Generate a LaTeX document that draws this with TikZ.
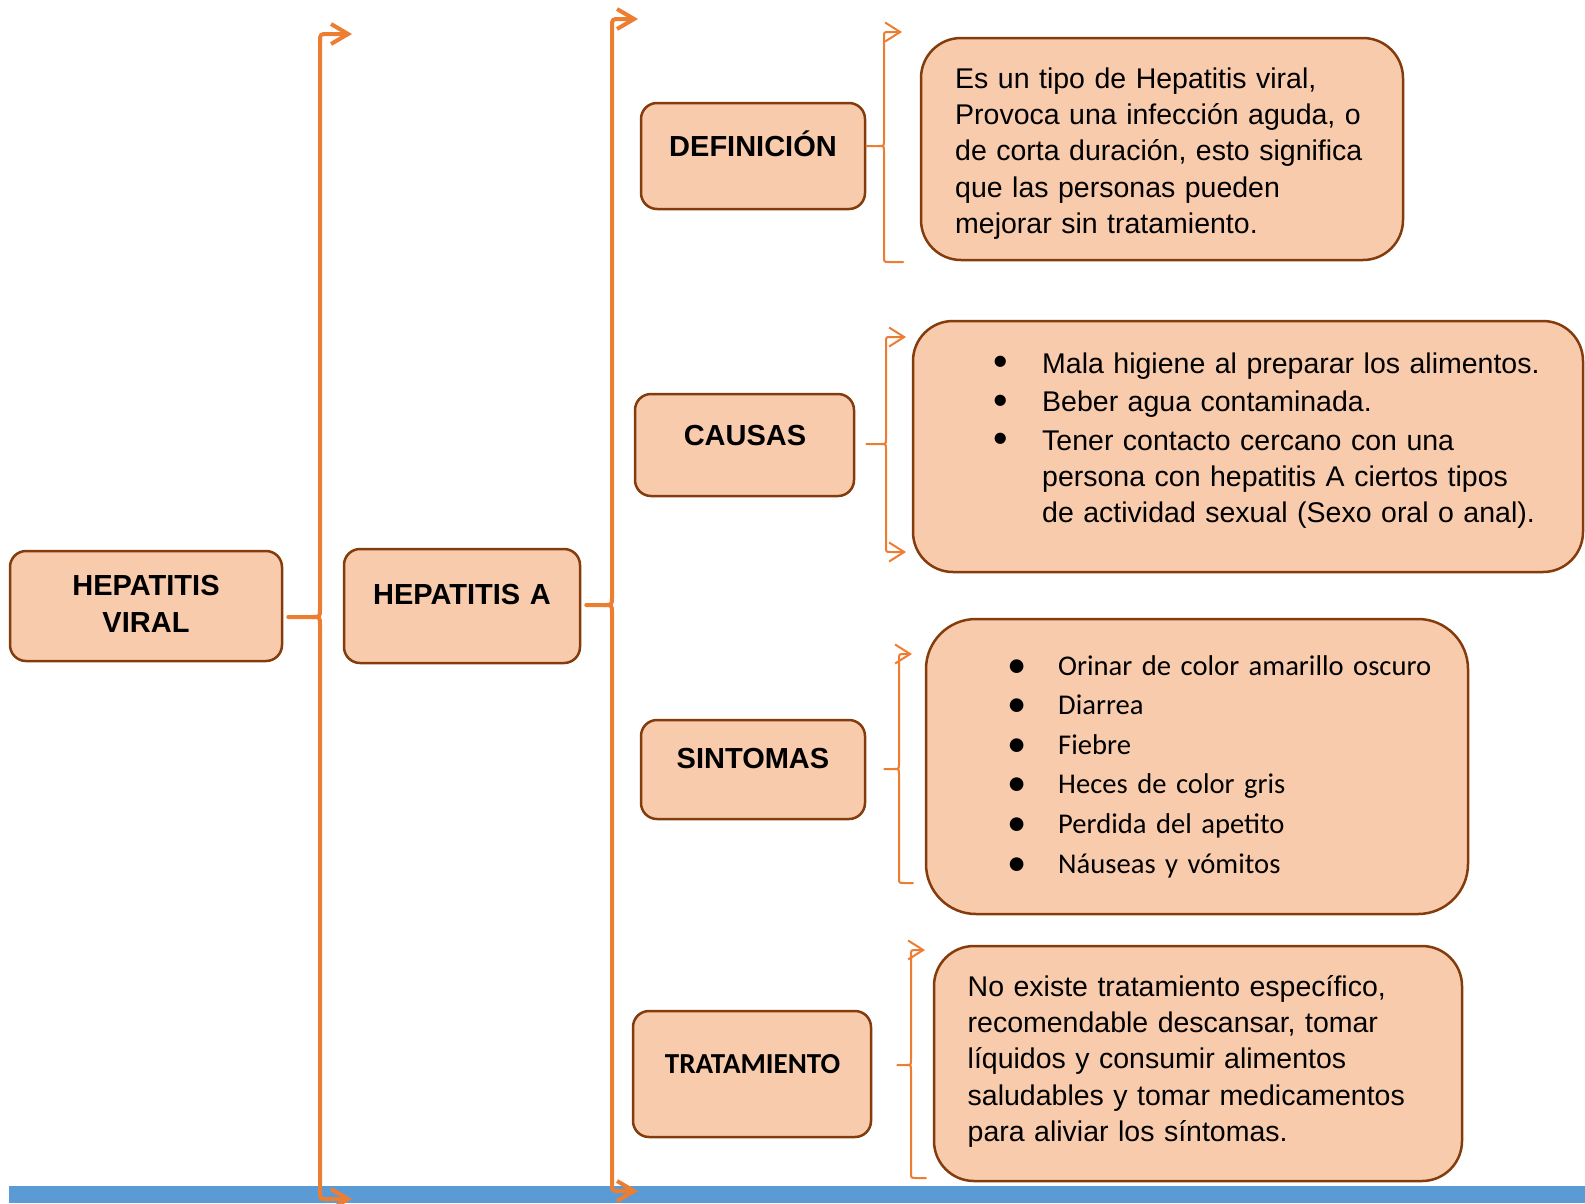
\documentclass[tikz,border=0pt]{standalone}
\usepackage{fontspec}
\usepackage{graphicx}
\setmainfont{Liberation Sans}
\newfontfamily\calib{Carlito}
\usetikzlibrary{arrows.meta,calc}
\definecolor{boxfill}{HTML}{F8CBAD}
\definecolor{boxline}{HTML}{843C0C}
\definecolor{brc}{HTML}{ED7D31}
\definecolor{barblue}{HTML}{5B9BD5}
\newcommand\causbul{\leavevmode\llap{\makebox[0pt]{\raisebox{-2.5pt}{\scalebox{1.45}{\textbullet}}}\hspace*{41pt}}}
\newcommand\sintbul{\leavevmode\llap{\makebox[0pt]{\raisebox{-2pt}{\scalebox{1.35}{\textbullet}}}\hspace*{41pt}}}
\begin{document}
\begin{tikzpicture}[x=1pt,y=-1pt,
  smallbox/.style={draw=boxline,fill=boxfill,line width=2.5pt,rounded corners=16pt,inner sep=0pt},
  bigbox/.style={draw=boxline,fill=boxfill,line width=2.5pt,rounded corners=40pt,inner sep=0pt},
  head/.style={font=\bfseries\fontsize{29}{37}\selectfont,inner sep=0pt,anchor=base,text width=260pt,align=center},
  calhead/.style={font=\calib\bfseries\fontsize{29}{37}\selectfont,inner sep=0pt,anchor=base,text width=260pt,align=center},
  body/.style={font=\fontsize{28.5}{36.4}\selectfont,inner sep=0pt,anchor=base west,text width=560pt,align=left},
  calbody/.style={font=\calib\fontsize{28.6}{39.6}\selectfont,inner sep=0pt,anchor=base west,text width=560pt,align=left},
  thickbr/.style={draw=brc,line width=4pt,line cap=round,line join=round},
  thinbr/.style={draw=brc,line width=2pt,line cap=round,line join=round},
  bigtip/.style={-{Straight Barb[length=17pt,width=20pt]}},
  smalltip/.style={-{Straight Barb[length=15pt,width=19pt]}}
]
\useasboundingbox (0,0) rectangle (1585,1203);
\fill[white] (0,0) rectangle (1585,1203);
% blue bar
\fill[barblue] (9,1186) rectangle (1585,1203);

% left boxes
\node[smallbox,minimum width=272pt,minimum height=110pt] (hv) at (146,606) {};
\node[head] (hvt) at (146,595) {HEPATITIS\\VIRAL};
\node[smallbox,minimum width=236pt,minimum height=114pt] (ha) at (462,606) {};
\node[head] (hat) at (462,604) {HEPATITIS A};

% middle boxes
\node[smallbox,minimum width=224pt,minimum height=106pt] (def) at (753,156) {};
\node[head] (deft) at (753,156) {DEFINICIÓN};
\node[smallbox,minimum width=219pt,minimum height=102pt] (cau) at (744.5,445) {};
\node[head] (caut) at (745,445) {CAUSAS};
\node[smallbox,minimum width=224pt,minimum height=99pt] (sin) at (753,769.5) {};
\node[head] (sint) at (753,768.5) {SINTOMAS};
\node[smallbox,minimum width=238pt,minimum height=126pt] (tra) at (752,1074) {};
\node[calhead] (trat) at (752.5,1073) {TRATAMIENTO};

% right boxes
\node[bigbox,minimum width=482pt,minimum height=222pt] (defb) at (1162,149) {};
\node[body] (defx) at (955,88) {Es un tipo de Hepatitis viral,\\
Provoca una infección aguda, o\\
de corta duración, esto significa\\
que las personas pueden\\
mejorar sin tratamiento.};

\node[bigbox,minimum width=670pt,minimum height=251pt] (caub) at (1248,446.5) {};
\node[body] (caux) at (1042,373) {\causbul Mala higiene al preparar los alimentos.\\[2.1pt]
\causbul Beber agua contaminada.\\[2.1pt]
\causbul Tener contacto cercano con una\\
persona con hepatitis A ciertos tipos\\
de actividad sexual (Sexo oral o anal).};

\node[bigbox,rounded corners=50pt,minimum width=542pt,minimum height=295pt] (sinb) at (1197,766.5) {};
\node[calbody] (sinx) at (1058,675) {\sintbul Orinar de color amarillo oscuro\\
\sintbul Diarrea\\
\sintbul Fiebre\\
\sintbul Heces de color gris\\
\sintbul Perdida del apetito\\
\sintbul Náuseas y vómitos};

\node[bigbox,minimum width=528pt,minimum height=235pt] (trab) at (1198,1063.5) {};
\node[body] (trax) at (967.5,996) {No existe tratamiento específico,\\
recomendable descansar, tomar\\
líquidos y consumir alimentos\\
saludables y tomar medicamentos\\
para aliviar los síntomas.};

% thick brace 1
\coordinate (b1s) at ($(hv.east)+(5,11)$);
\coordinate (b1t) at (352,34);
\coordinate (b1b) at (352,1199);
\draw[thickbr,bigtip] (b1s) -- (312,617) .. controls (320,617) .. (320,609) -- (320,42) .. controls (320,34) .. (328,34) -- (b1t);
\draw[thickbr,bigtip] (312,617) .. controls (320,617) .. (320,625) -- (320,1191) .. controls (320,1199) .. (328,1199) -- (b1b);

% thick brace 2
\coordinate (b2s) at ($(ha.east)+(5,-1)$);
\coordinate (b2t) at (638,19);
\coordinate (b2b) at (638,1191);
\draw[thickbr,bigtip] (b2s) -- (604,605) .. controls (612,605) .. (612,597) -- (612,27) .. controls (612,19) .. (620,19) -- (b2t);
\draw[thickbr,bigtip] (604,605) .. controls (612,605) .. (612,613) -- (612,1183) .. controls (612,1191) .. (620,1191) -- (b2b);

% thin brace DEF
\coordinate (d3s) at ($(def.east)+(0,-10)$);
\coordinate (d3t) at (902,32);
\coordinate (d3b) at (903,262);
\draw[thinbr,smalltip] (d3s) -- (879,146) .. controls (884,146) .. (884,141) -- (884,37) .. controls (884,32) .. (889,32) -- (d3t);
\draw[thinbr] (879,146) .. controls (884,146) .. (884,151) -- (884,257) .. controls (884,262) .. (889,262) -- (d3b);

% thin brace CAUSAS
\coordinate (c3s) at ($(cau.east)+(11,-1)$);
\coordinate (c3t) at (906,337);
\coordinate (c3b) at (906,552);
\draw[thinbr,smalltip] (c3s) -- (881,444) .. controls (886,444) .. (886,439) -- (886,342) .. controls (886,337) .. (891,337) -- (c3t);
\draw[thinbr,smalltip] (881,444) .. controls (886,444) .. (886,449) -- (886,547) .. controls (886,552) .. (891,552) -- (c3b);

% thin brace SINTOMAS
\coordinate (s3s) at ($(sin.east)+(18,-0.5)$);
\coordinate (s3t) at (912,654);
\coordinate (s3b) at (913,883);
\draw[thinbr,smalltip] (s3s) -- (894,769) .. controls (899,769) .. (899,764) -- (899,659) .. controls (899,654) .. (904,654) -- (s3t);
\draw[thinbr] (894,769) .. controls (899,769) .. (899,774) -- (899,878) .. controls (899,883) .. (904,883) -- (s3b);

% thin brace TRATAMIENTO
\coordinate (t3s) at ($(tra.east)+(25,-9)$);
\coordinate (t3t) at (925,950);
\coordinate (t3b) at (926,1178);
\draw[thinbr,smalltip] (t3s) -- (906,1065) .. controls (911,1065) .. (911,1060) -- (911,955) .. controls (911,950) .. (916,950) -- (t3t);
\draw[thinbr] (906,1065) .. controls (911,1065) .. (911,1070) -- (911,1173) .. controls (911,1178) .. (916,1178) -- (t3b);
\end{tikzpicture}
\end{document}
